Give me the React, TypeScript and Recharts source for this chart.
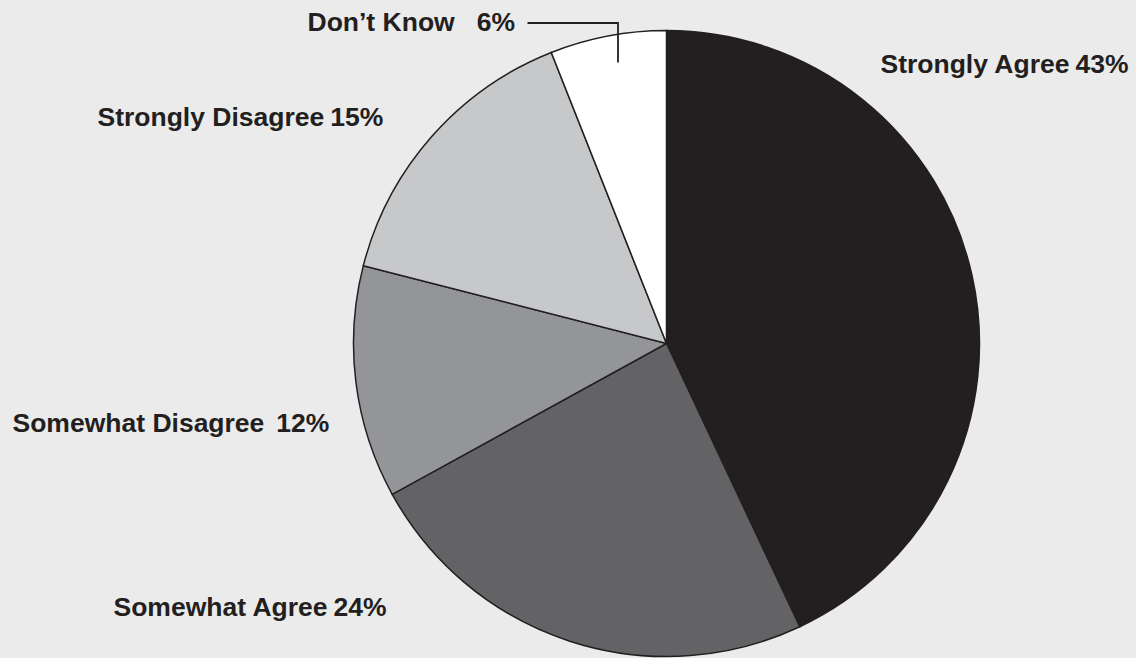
import React from "react";
import { PieChart, Pie, Cell } from "recharts";

const categories = ["Strongly Agree", "Somewhat Agree", "Somewhat Disagree", "Strongly Disagree", "Don\u2019t Know"];
const values = [43, 24, 12, 15, 6];
const colors = ["#231f20", "#636365", "#939598", "#c7c8ca", "#ffffff"];

// label anchor offsets (start x, baseline y) relative to pie center; gap before value
const labelOffsets = [
  { dx: 214, dy: -271, gap: 6 },
  { dx: -553, dy: 272, gap: 6 },
  { dx: -654, dy: 88, gap: 12 },
  { dx: -569, dy: -218, gap: 6 },
  { dx: -359, dy: -313, gap: 22 },
];

const data = categories.map((name, i) => ({ name, value: values[i] }));

const CX = 666.5;
const CY = 343.5;

const renderLabel = (props: any) => {
  const { cx, cy, index, name, value } = props;
  const o = labelOffsets[index];
  const x = cx + o.dx;
  const y = cy + o.dy;
  return (
    <g key={"lbl" + index}>
      <text
        x={x}
        y={y}
        fill="#231f20"
        fontFamily="'Liberation Sans', Arial, sans-serif"
        fontWeight="bold"
        fontSize={26.5}
        textAnchor="start"
      >
        <tspan>{name}</tspan>
        <tspan dx={o.gap}>{value + "%"}</tspan>
      </text>
      {index === 4 && (
        <polyline
          points={`${cx - 139},${cy - 320.5} ${cx - 48.5},${cy - 320.5} ${cx - 48.5},${cy - 281}`}
          fill="none"
          stroke="#231f20"
          strokeWidth={1.8}
        />
      )}
    </g>
  );
};

export default function App() {
  return (
    <div style={{ position: "absolute", left: 0, top: 0, width: 1136, height: 658, background: "#ebebeb" }}>
      <PieChart width={1136} height={658} margin={{ top: 0, right: 0, bottom: 0, left: 0 }}>
        <Pie
          data={data}
          dataKey="value"
          nameKey="name"
          cx={CX}
          cy={CY}
          outerRadius={313}
          startAngle={90}
          endAngle={-270}
          stroke="#231f20"
          strokeWidth={1.5}
          label={renderLabel}
          labelLine={false}
          isAnimationActive={false}
        >
          {data.map((d, i) => (
            <Cell key={d.name} fill={colors[i]} />
          ))}
        </Pie>
      </PieChart>
    </div>
  );
}
